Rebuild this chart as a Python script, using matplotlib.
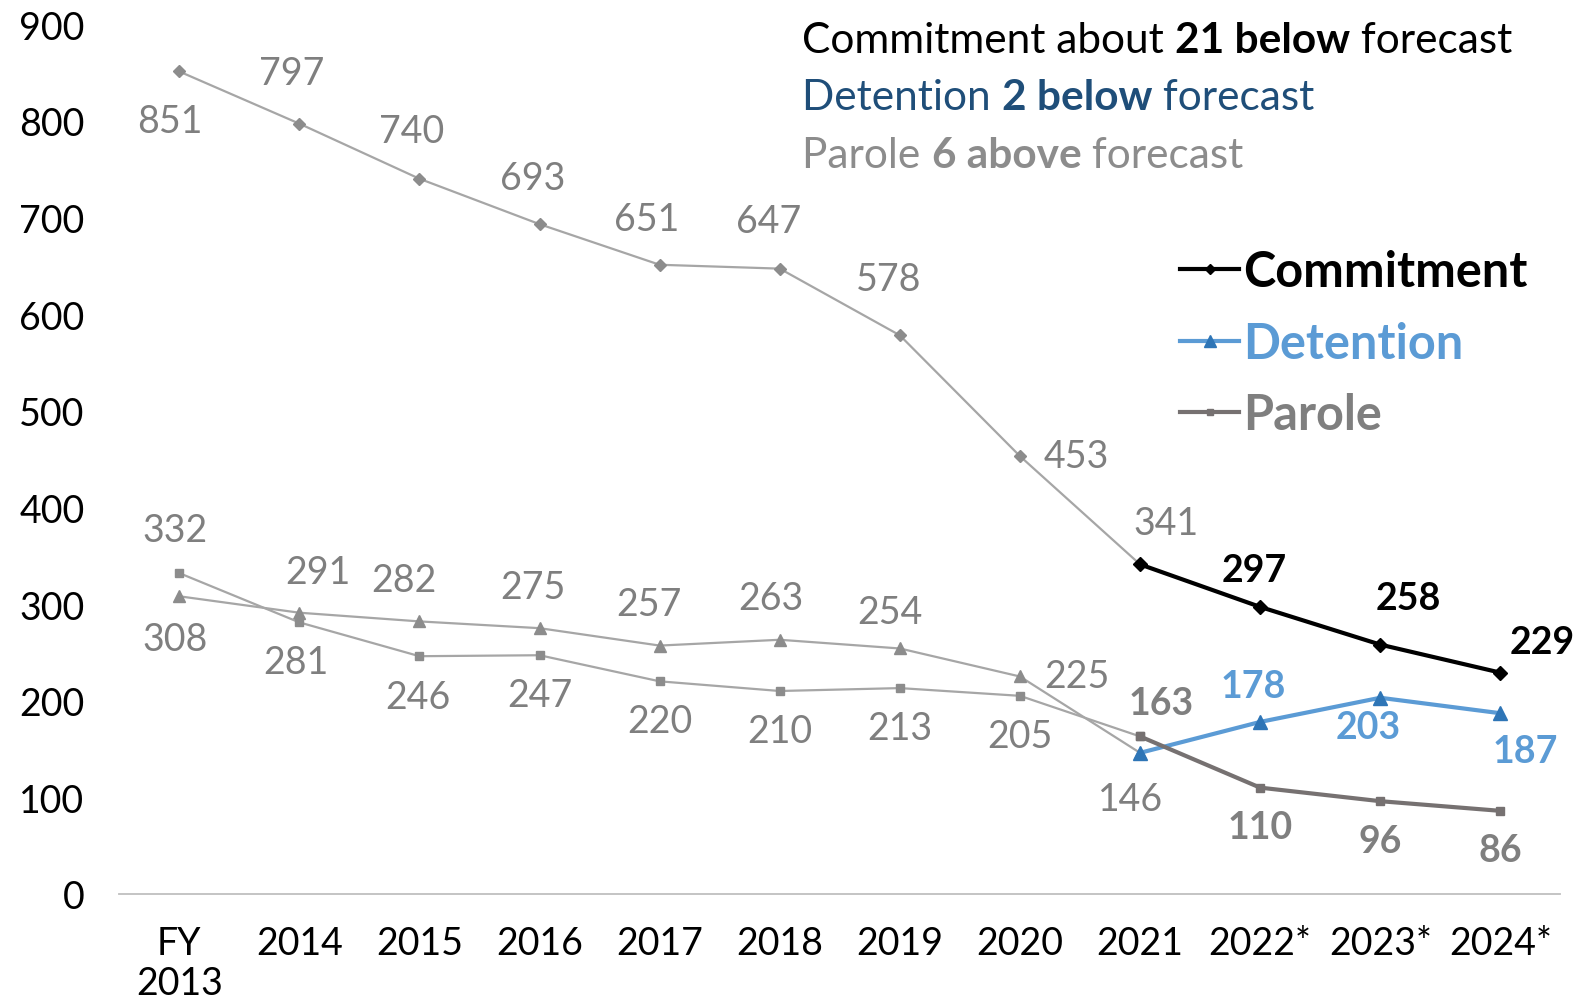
import matplotlib
matplotlib.use("Agg")
import matplotlib.pyplot as plt
from matplotlib.lines import Line2D
from matplotlib.offsetbox import TextArea, HPacker, AnnotationBbox

plt.rcParams['font.family'] = ['Lato', 'DejaVu Sans']

years = ['FY\n2013', '2014', '2015', '2016', '2017', '2018', '2019', '2020',
         '2021', '2022*', '2023*', '2024*']
commitment = [851, 797, 740, 693, 651, 647, 578, 453, 341, 297, 258, 229]
detention = [308, 291, 282, 275, 257, 263, 254, 225, 146, 178, 203, 187]
parole = [332, 281, 246, 247, 220, 210, 213, 205, 163, 110, 96, 86]
n_hist = 9  # FY2013..2021 actual, rest forecast

# label offsets in pixels (dx, dy up)
c_off = [(-9, -49), (-8, 50), (-8, 47), (-7, 46), (-13, 45), (-11, 47), (-11, 56),
         (56, 0), (26, 41), (-6, 36), (28, 46), (41, 30)]
d_off = [(-4, -42), (18, 40), (-15, 41), (-7, 41), (-11, 41), (-9, 41), (-10, 36),
         (56, 0), (-9, -46), (-7, 35), (-12, -29), (25, -37)]
p_off = [(-4, 43), (-3, -39), (-2, -40), (0, -39), (0, -39), (0, -39), (0, -39),
         (0, -40), (21, 33), (0, -39), (0, -39), (0, -39)]

GRAY_LINE = '#A6A6A6'
GRAY_MK = '#8C8C8C'
GRAY_TXT = '#7F7F7F'
BLUE = '#5B9BD5'
BLUE_MK = '#2E75B6'
PAROLE = '#767171'

fig = plt.figure(figsize=(15.89, 10.04), dpi=100)
ax = fig.add_axes([0.075, 0.1086, 0.907, 0.8664])

x = list(range(len(years)))
xh = x[:n_hist]
xf = x[n_hist - 1:]

# historical (gray)
ax.plot(xh, commitment[:n_hist], color=GRAY_LINE, lw=1.6, marker='D', ms=6,
        mfc=GRAY_MK, mec=GRAY_MK, zorder=2)
ax.plot(xh, detention[:n_hist], color=GRAY_LINE, lw=1.6, marker='^', ms=8,
        mfc=GRAY_MK, mec=GRAY_MK, zorder=2)
ax.plot(xh, parole[:n_hist], color=GRAY_LINE, lw=1.6, marker='s', ms=6,
        mfc=GRAY_MK, mec=GRAY_MK, zorder=2)

# forecast (colored)
ax.plot(xf, commitment[n_hist - 1:], color='black', lw=3, marker='D', ms=7, zorder=3)
ax.plot(xf, detention[n_hist - 1:], color=BLUE, lw=3, marker='^', ms=10,
        mfc=BLUE_MK, mec=BLUE_MK, zorder=3)
ax.plot(xf, parole[n_hist - 1:], color=PAROLE, lw=3, marker='s', ms=6, zorder=3)

px2pt = 72 / 100 * 1.013


def label(series, offs, fcolor, first_bold_idx):
    for i, (v, (dx, dy)) in enumerate(zip(series, offs)):
        bold = i >= first_bold_idx
        ax.annotate(str(v), (i, v), xytext=(dx * px2pt, dy * px2pt),
                    textcoords='offset points', ha='center', va='center',
                    fontsize=27, color=fcolor if bold else GRAY_TXT,
                    fontweight='bold' if bold else 'normal')


label(commitment, c_off, 'black', n_hist)
label(detention, d_off, BLUE, n_hist)
label(parole, p_off, GRAY_TXT, n_hist - 1)

ax.set_xlim(-0.5, len(years) - 0.5)
ax.set_ylim(0, 900)
ax.set_yticks(range(0, 901, 100))
ax.set_xticks(x)
ax.set_xticklabels(years)
ax.tick_params(axis='both', length=0, labelsize=27, colors='black')
ax.tick_params(axis='y', pad=25)
ax.tick_params(axis='x', pad=22)
for s in ['top', 'right', 'left']:
    ax.spines[s].set_visible(False)
ax.spines['bottom'].set_color('#BFBFBF')
ax.spines['bottom'].set_linewidth(1.3)
for t in ax.get_xticklabels():
    t.set_linespacing(1.15)

handles = [
    Line2D([], [], color='black', lw=3, marker='D', ms=5),
    Line2D([], [], color=BLUE, lw=3, marker='^', ms=8, mfc=BLUE_MK, mec=BLUE_MK),
    Line2D([], [], color=PAROLE, lw=3, marker='s', ms=4),
]
leg = ax.legend(handles, ['Commitment', 'Detention', 'Parole'],
                loc='upper left', bbox_to_anchor=(0.706, 0.792),
                frameon=False, handlelength=1.2, handletextpad=0.1,
                labelspacing=0.55, prop={'size': 35, 'weight': 'bold'},
                labelcolor=['black', BLUE, GRAY_TXT])

# headline notes
notes = [
    [('Commitment about ', 'normal', 'black'), ('21 below', 'bold', 'black'),
     (' forecast', 'normal', 'black')],
    [('Detention ', 'normal', '#1F4E79'), ('2 below', 'bold', '#1F4E79'),
     (' forecast', 'normal', '#1F4E79')],
    [('Parole ', 'normal', '#8C8C8C'), ('6 above', 'bold', '#8C8C8C'),
     (' forecast', 'normal', '#8C8C8C')],
]
ys = [0.959, 0.902, 0.845]
for parts, yy in zip(notes, ys):
    boxes = [TextArea(t, textprops=dict(fontsize=30.5, fontweight=w, color=c))
             for t, w, c in parts]
    pack = HPacker(children=boxes, align='baseline', pad=0, sep=0)
    ab = AnnotationBbox(pack, (0.505, yy), xycoords='figure fraction',
                        box_alignment=(0, 0.5), frameon=False)
    fig.add_artist(ab)

fig.savefig('out.png', dpi=100)
